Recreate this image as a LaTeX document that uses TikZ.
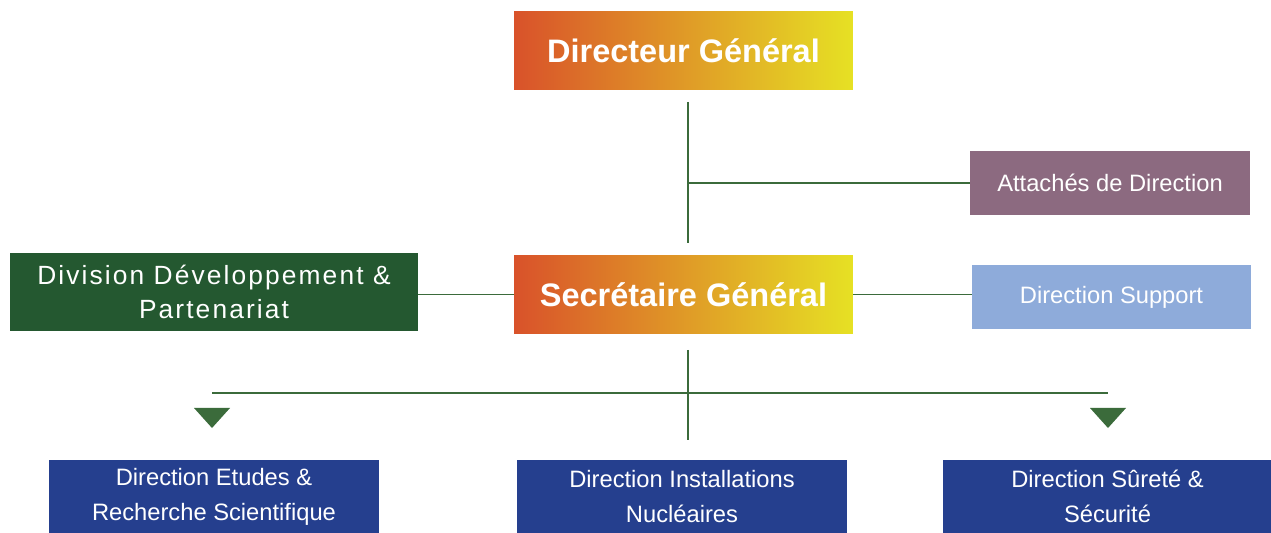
\documentclass[tikz,border=0pt]{standalone}
\usepackage{fontspec}
\setmainfont{Liberation Sans}
\usepackage{tikz}

\definecolor{hotleft}{HTML}{D9522A}
\definecolor{hotmid}{HTML}{E09C2C}
\definecolor{hotright}{HTML}{E6E124}
\definecolor{mauve}{HTML}{8C6A80}
\definecolor{skyblue}{HTML}{8EABDA}
\definecolor{forest}{HTML}{245830}
\definecolor{navy}{HTML}{253F8E}
\definecolor{linegreen}{HTML}{3B6B3B}

\begin{document}
\begin{tikzpicture}[x=0.02cm,y=-0.02cm,
        box/.style={rectangle,inner sep=0pt,text=white,align=center,font=\fontsize{13.5}{19.8}\selectfont},
        headbox/.style={box,shading=axis,left color=hotleft,middle color=hotmid,right color=hotright,
            minimum width=6.78cm,minimum height=1.58cm,font=\fontsize{18.5}{22}\selectfont\bfseries},
        deptbox/.style={box,fill=navy,minimum width=6.6cm,minimum height=1.46cm},
        link/.style={draw=linegreen,line width=0.8pt}]

    \useasboundingbox (0,0) rectangle (1271,533);

    % top of the chart
    \node[headbox] (dg) at (683.5,50.5) {Directeur Général};
    \node[box,fill=mauve,minimum width=5.6cm,minimum height=1.28cm] (att) at (1110,183) {Attachés de Direction};
    \node[headbox] (sg) at (683.5,294.5) {Secrétaire Général};
    \node[box,fill=forest,minimum width=8.16cm,minimum height=1.56cm,
        font=\fontsize{15}{19.5}\selectfont\addfontfeature{LetterSpace=8}] (div) at (214,292)
        {Division Développement \&\\Partenariat};
    \node[box,fill=skyblue,minimum width=5.58cm,minimum height=1.28cm] (sup) at (1111.5,297) {Direction Support};

    % directions
    \node[deptbox] (des) at (214,496.5) {Direction Etudes \&\\Recherche Scientifique};
    \node[deptbox] (din) at (682,496.5) {Direction Installations\\Nucléaires};
    \node[deptbox] (dss) at (1107.5,496.5) {Direction Sûreté \&\\Sécurité};

    \coordinate (dgfoot) at (688,102);
    \coordinate (sghead) at (688,243);
    \coordinate (sgfoot) at (688,350);
    \coordinate (busend) at (688,440);
    \coordinate (busleft) at (212,393);
    \coordinate (busright) at (1108,393);

    \draw[link] (dgfoot) -- (sghead);
    \draw[link] (dgfoot |- att.west) -- (att.west);
    \draw[link] (div.east |- sg.west) -- (sg.west);
    \draw[link] (sg.east) -- (sg.east -| sup.west);
    \draw[link] (sgfoot) -- (busend);
    \draw[link] (busleft) -- (busright);

    \foreach \x in {212,1108}
        \fill[linegreen] (\x-18,408) -- (\x+18,408) -- (\x,428) -- cycle;
\end{tikzpicture}
\end{document}
